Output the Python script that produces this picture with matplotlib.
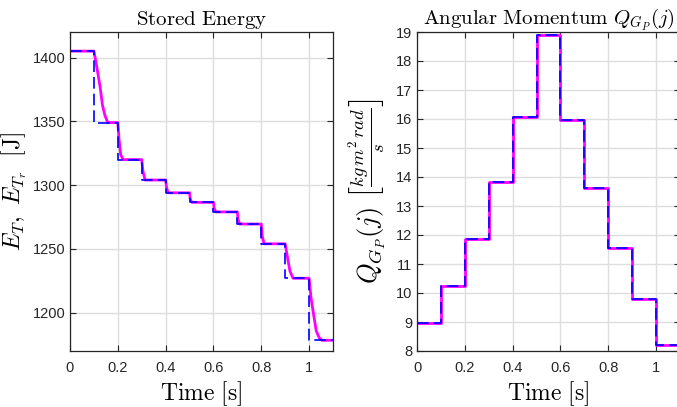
import matplotlib
matplotlib.use('Agg')
import matplotlib.pyplot as plt

plt.rcParams['mathtext.fontset'] = 'cm'
plt.rcParams['font.family'] = ['Liberation Sans', 'DejaVu Sans']

# Reference (step) energy: level held from each switching time
t_steps = [0.0, 0.1, 0.2, 0.3, 0.4, 0.5, 0.6, 0.7, 0.8, 0.9, 1.0, 1.1]
E_ref = [1405, 1349, 1320, 1304, 1294, 1286.5, 1279, 1269.5, 1254, 1227, 1178.4, 1178.4]

t_act = [0.0, 0.1, 0.111, 0.125, 0.136, 0.146, 0.158,
         0.2, 0.205, 0.212, 0.222,
         0.3, 0.305, 0.314,
         0.4, 0.404, 0.411,
         0.5, 0.503, 0.51,
         0.6, 0.603, 0.61,
         0.7, 0.703, 0.71,
         0.8, 0.804, 0.812,
         0.9, 0.91, 0.92, 0.933,
         1.0, 1.008, 1.021, 1.03, 1.042, 1.053, 1.1]
E_act = [1405, 1405, 1393.8, 1378.1, 1362.5, 1354.7, 1349,
         1349, 1336, 1324, 1320,
         1320, 1311, 1304,
         1304, 1298, 1294,
         1294, 1289, 1286.5,
         1286.5, 1282, 1279,
         1279, 1273, 1269.5,
         1269.5, 1260, 1254,
         1254, 1243, 1232.6, 1227,
         1227, 1211.7, 1196, 1185.7, 1180.5, 1178.4, 1178.4]

# Angular momentum per interval j
Q_levels = [8.95, 10.23, 11.87, 13.82, 16.06, 18.9, 15.97, 13.62, 11.56, 9.78, 8.2, 8.2]

grid_c = '#dedede'
axis_c = '#262626'

fig = plt.figure(figsize=(6.77, 4.07), dpi=100)
ax1 = fig.add_axes([70/677, 56/407, 263/677, 319/407])
ax2 = fig.add_axes([417/677, 56/407, 263/677, 319/407])


def style(ax):
    ax.grid(True, color=grid_c, linewidth=1.0)
    ax.set_axisbelow(True)
    ax.tick_params(direction='in', top=True, right=True, length=4,
                   labelsize=10.5, colors=axis_c, labelcolor=axis_c)
    ax.tick_params(axis='x', pad=7)
    for s in ax.spines.values():
        s.set_color(axis_c)
        s.set_linewidth(0.9)
    ax.set_xlim(0, 1.1)
    ax.set_xticks([0, 0.2, 0.4, 0.6, 0.8, 1.0])
    ax.set_xticklabels(['0', '0.2', '0.4', '0.6', '0.8', '1'])
    ax.set_xlabel(r'$\mathrm{Time}\ [\mathrm{s}]$', fontsize=17, labelpad=3)


# Left: stored energy
ax1.plot(t_act, E_act, color='#ff00ff', linewidth=2.0)
l1, = ax1.plot(t_steps, E_ref, color='#0000ff', linewidth=1.2,
               drawstyle='steps-post', linestyle='--')
l1.set_dashes([7, 3])
style(ax1)
ax1.set_ylim(1170, 1420)
ax1.set_yticks([1200, 1250, 1300, 1350, 1400])
ax1.set_title(r'$\mathrm{Stored\ Energy}$', fontsize=15, pad=5)
ax1.set_ylabel(r'$E_T,\ E_{T_r}\ \ [\mathrm{J}]$', fontsize=17)
ax1.yaxis.set_label_coords(-0.156, 0.5)

# Right: angular momentum
ax2.plot(t_steps, Q_levels, color='#ff00ff', linewidth=2.0, drawstyle='steps-post')
l2, = ax2.plot(t_steps, Q_levels, color='#0000ff', linewidth=1.2,
               drawstyle='steps-post', linestyle='--')
l2.set_dashes([7, 3])
style(ax2)
ax2.set_ylim(8, 19)
ax2.set_yticks(range(8, 20))
ax2.set_title(r'$\mathrm{Angular\ Momentum}\ Q_{G_P}(j)$', fontsize=15, pad=5)
ax2.set_ylabel(r'$Q_{G_P}(j)\ \left[\frac{kg\,m^2\,rad}{s}\right]$', fontsize=19)
ax2.yaxis.set_label_coords(-0.11, 0.5)

fig.savefig('out.png', dpi=100)
